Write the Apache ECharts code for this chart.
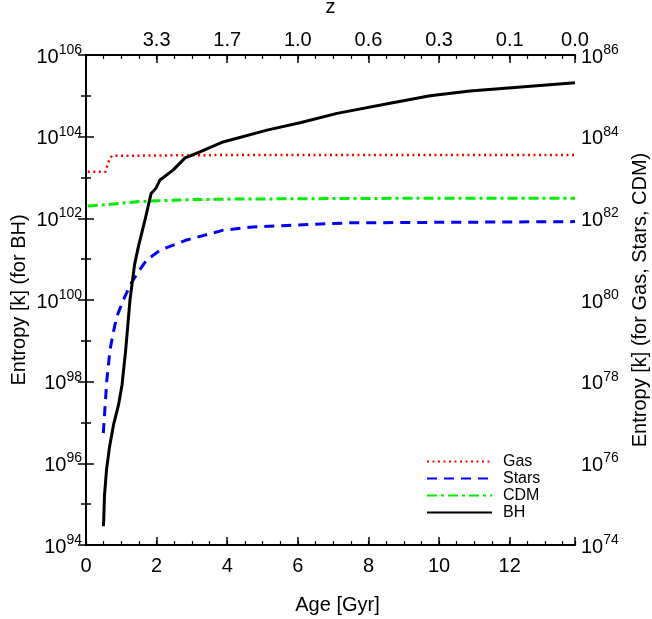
<!DOCTYPE html>
<html><head><meta charset="utf-8">
<script src="https://cdn.jsdelivr.net/npm/echarts@6/dist/echarts.min.js"></script>
<style>html,body{margin:0;padding:0;background:#fff}#c{width:652px;height:619px}</style>
</head><body><div id="c"></div>
<script>
// Age in Gyr; entropies stored as log10(S/k)
const ageMax = 13.85;
const gasAge = [0.05, 0.30, 0.55, 0.60, 0.66, 0.74, 1.0, 2.0, 4.0, 8.0, 13.85];
const gasLog = [83.14, 83.14, 83.14, 83.28, 83.44, 83.53, 83.53, 83.54, 83.55, 83.55, 83.55];
const starsAge = [0.49, 0.54, 0.59, 0.68, 0.77, 0.87, 1.06, 1.25, 1.48, 1.72, 2.10, 2.85, 3.89, 4.73, 5.50, 7.48, 13.85];
const starsLog = [76.74, 77.39, 78.04, 78.78, 79.19, 79.59, 80.00, 80.37, 80.69, 80.98, 81.22, 81.47, 81.71, 81.79, 81.82, 81.89, 81.92];
const cdmAge = [0.05, 0.5, 1.0, 1.5, 2.0, 3.0, 4.0, 6.0, 9.0, 13.85];
const cdmLog = [82.30, 82.33, 82.37, 82.41, 82.43, 82.46, 82.47, 82.48, 82.49, 82.49];
const bhAge = [0.496, 0.524, 0.581, 0.666, 0.779, 0.921, 1.020, 1.119, 1.246, 1.374, 1.487, 1.671, 1.841, 1.983, 2.096, 2.465, 2.805, 3.229, 3.881, 5.127, 6.062, 7.110, 8.612, 9.745, 10.878, 13.85];
const bhLog = [94.46, 95.22, 95.84, 96.40, 96.94, 97.43, 97.92, 98.73, 100.0, 100.86, 101.32, 101.96, 102.60, 102.74, 102.94, 103.18, 103.48, 103.63, 103.87, 104.16, 104.34, 104.57, 104.82, 105.00, 105.12, 105.32];
const zTickAges = [2, 4, 6, 8, 10, 12, 13.85];
const zTickLabels = ['3.3', '1.7', '1.0', '0.6', '0.3', '0.1', '0.0'];
const bhRange = [94, 106];
const otherRange = [74, 86];

const FONT = "'Liberation Sans', Arial, sans-serif";
const pair = (a, b) => a.map((x, i) => [x, b[i]]);
const rich = {
  b: {fontSize: 20, fontFamily: FONT, color: '#000', verticalAlign: 'bottom', lineHeight: 24},
  s: {fontSize: 14, fontFamily: FONT, color: '#000', verticalAlign: 'top'}
};
const powLabel = v => '{b|10}{s|' + Math.round(v) + '}';
const axisLine = {show: true, lineStyle: {color: '#000', width: 2}};
const xMajor = {show: true, inside: true, length: 8, lineStyle: {color: '#000', width: 1.5}};
const xMinor = {show: true, inside: true, length: 4, lineStyle: {color: '#000', width: 1.2}};
const yMajor = {show: true, inside: true, length: 8, lineStyle: {color: '#000', width: 1.5}};
const yMinor = {show: true, inside: true, length: 5, lineStyle: {color: '#000', width: 1.5}};
const nameStyle = {fontSize: 20, fontFamily: FONT, color: '#000'};
const tickFont = {fontSize: 20, fontFamily: FONT, color: '#000'};

const chart = echarts.init(document.getElementById('c'));
chart.setOption({
  animation: false,
  backgroundColor: '#fff',
  grid: {left: 86, right: 77, top: 55, bottom: 74, containLabel: false, outerBoundsMode: 'none'},
  legend: {
    orient: 'vertical', left: 426, top: 453, padding: 0, itemWidth: 65, itemHeight: 14, itemGap: 0,
    itemStyle: {opacity: 0},
    textStyle: {fontSize: 16, lineHeight: 17, fontFamily: FONT, color: '#000', padding: [0, 0, 0, 6]},
    data: ['Gas', 'Stars', 'CDM', 'BH']
  },
  xAxis: [
    {type: 'value', position: 'bottom', min: 0, max: ageMax, interval: 2,
     name: 'Age [Gyr]', nameLocation: 'middle', nameGap: 50,
     nameTextStyle: {...nameStyle, padding: [0, 0, 0, 14]},
     axisLine, axisTick: xMajor, splitLine: {show: false},
     axisLabel: {margin: 11, ...tickFont,
       formatter: v => (Math.abs(v % 2) < 1e-9 ? String(v) : '')}},
    {type: 'value', position: 'bottom', min: 0, max: ageMax, interval: 0.5,
     axisLine: {show: false}, axisTick: xMinor, axisLabel: {show: false}, splitLine: {show: false}},
    {type: 'value', position: 'top', min: 0, max: ageMax, interval: 2,
     name: 'z', nameLocation: 'middle', nameGap: 38, nameTextStyle: nameStyle,
     axisLine, axisTick: xMajor, splitLine: {show: false},
     axisLabel: {margin: 5, ...tickFont,
       formatter: v => { const i = zTickAges.findIndex(a => Math.abs(a - v) < 1e-6); return i >= 0 ? zTickLabels[i] : ''; }}},
    {type: 'value', position: 'top', min: 0, max: ageMax, interval: 0.5,
     axisLine: {show: false}, axisTick: xMinor, axisLabel: {show: false}, splitLine: {show: false}}
  ],
  yAxis: [
    {type: 'value', position: 'left', min: bhRange[0], max: bhRange[1], interval: 2,
     name: 'Entropy [k] (for BH)', nameLocation: 'middle', nameGap: 57, nameRotate: 90, nameMoveOverlap: false,
     nameTextStyle: nameStyle,
     axisLine, axisTick: yMajor, splitLine: {show: false},
     axisLabel: {margin: 4, formatter: powLabel, rich}},
    {type: 'value', position: 'left', min: bhRange[0], max: bhRange[1], interval: 1,
     axisLine: {show: false}, axisTick: yMinor, axisLabel: {show: false}, splitLine: {show: false}},
    {type: 'value', position: 'right', min: otherRange[0], max: otherRange[1], interval: 2,
     name: 'Entropy [k] (for Gas, Stars, CDM)', nameLocation: 'middle', nameGap: 55, nameRotate: 90, nameMoveOverlap: false,
     nameTextStyle: nameStyle,
     axisLine, axisTick: yMajor, splitLine: {show: false},
     axisLabel: {margin: 6, formatter: powLabel, rich}},
    {type: 'value', position: 'right', min: otherRange[0], max: otherRange[1], interval: 1,
     axisLine: {show: false}, axisTick: yMinor, axisLabel: {show: false}, splitLine: {show: false}}
  ],
  series: [
    {name: 'Gas', type: 'line', xAxisIndex: 0, yAxisIndex: 2, showSymbol: false, symbol: 'none',
     color: '#ff0000', lineStyle: {color: '#ff0000', width: 2.5, type: [2, 3.5]}, data: pair(gasAge, gasLog)},
    {name: 'Stars', type: 'line', xAxisIndex: 0, yAxisIndex: 2, showSymbol: false, symbol: 'none',
     color: '#0000ff', lineStyle: {color: '#0000ff', width: 3, type: [10, 7]}, data: pair(starsAge, starsLog)},
    {name: 'CDM', type: 'line', xAxisIndex: 0, yAxisIndex: 2, showSymbol: false, symbol: 'none',
     color: '#00ee00', lineStyle: {color: '#00ee00', width: 3, type: [10, 4, 3, 4]}, data: pair(cdmAge, cdmLog)},
    {name: 'BH', type: 'line', xAxisIndex: 0, yAxisIndex: 0, showSymbol: false, symbol: 'none',
     color: '#000', lineStyle: {color: '#000', width: 3}, data: pair(bhAge, bhLog)}
  ]
});
</script></body></html>
